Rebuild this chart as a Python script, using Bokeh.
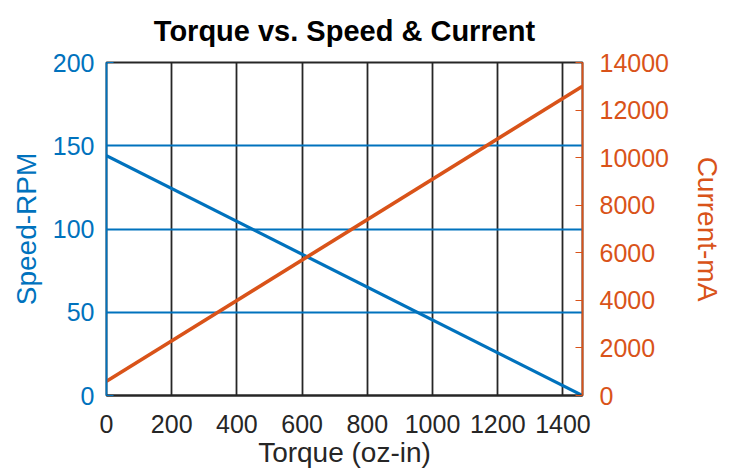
from bokeh.plotting import figure
from bokeh.models import Range1d, LinearAxis, FixedTicker
from bokeh.embed import file_html
from bokeh.resources import INLINE

# Data
torque = [0, 1460]
speed_rpm = [144, 0]
current_ma = [600, 13000]

x_ticks = [0, 200, 400, 600, 800, 1000, 1200, 1400]
speed_ticks = [0, 50, 100, 150, 200]
current_ticks = [0, 2000, 4000, 6000, 8000, 10000, 12000, 14000]
title_text = "Torque vs. Speed & Current"

BLUE = "#0072BD"
ORANGE = "#D95319"
FONT = "Liberation Sans"

p = figure(width=730, height=470, output_backend="svg", toolbar_location=None,
           x_range=Range1d(0, 1460), y_range=Range1d(0, 200),
           min_border_left=106, min_border_right=148, min_border_top=59, min_border_bottom=73,
           title=title_text)
p.extra_y_ranges = {"cur": Range1d(0, 14000)}

p.title.text_font = FONT
p.title.text_font_size = "29px"
p.title.text_font_style = "bold"
p.title.align = "center"
p.title.vertical_align = "top"
p.title.offset = 5
p.title.text_color = "black"
p.title.standoff = 28

p.outline_line_color = "#262626"
p.outline_line_width = 1.8
p.outline_line_alpha = 1

# grids
p.xgrid.ticker = FixedTicker(ticks=x_ticks)
p.xgrid.grid_line_color = "#262626"
p.xgrid.grid_line_width = 1.8
p.xgrid.grid_line_alpha = 1
p.ygrid.ticker = FixedTicker(ticks=speed_ticks)
p.ygrid.grid_line_color = BLUE
p.ygrid.grid_line_width = 1.8
p.ygrid.grid_line_alpha = 1

def style_axis(ax, color, standoff, lab_standoff):
    ax.axis_line_color = color
    ax.axis_line_width = 1.8
    ax.major_tick_line_color = color
    ax.major_tick_in = 7
    ax.major_tick_out = 0
    ax.minor_tick_line_color = None
    ax.major_label_text_color = color
    ax.major_label_text_font = FONT
    ax.major_label_text_font_size = "25px"
    ax.major_label_standoff = standoff
    ax.axis_label_text_color = color
    ax.axis_label_text_font = FONT
    ax.axis_label_text_font_size = "28px"
    ax.axis_label_text_font_style = "normal"
    ax.axis_label_standoff = lab_standoff

xa = p.xaxis[0]
xa.ticker = FixedTicker(ticks=x_ticks)
xa.axis_label = "Torque (oz-in)"
style_axis(xa, "#262626", 19, 1)

ya = p.yaxis[0]
ya.ticker = FixedTicker(ticks=speed_ticks)
ya.axis_label = "Speed-RPM"
style_axis(ya, BLUE, 12, 8)

ra = LinearAxis(y_range_name="cur", ticker=FixedTicker(ticks=current_ticks), axis_label="Current-mA")
style_axis(ra, ORANGE, 17, 20)
p.add_layout(ra, "right")

p.line(torque, speed_rpm, line_color=BLUE, line_width=3.2)
p.line(torque, current_ma, line_color=ORANGE, line_width=3.6, y_range_name="cur")

open("out.html", "w").write(file_html(p, INLINE))
